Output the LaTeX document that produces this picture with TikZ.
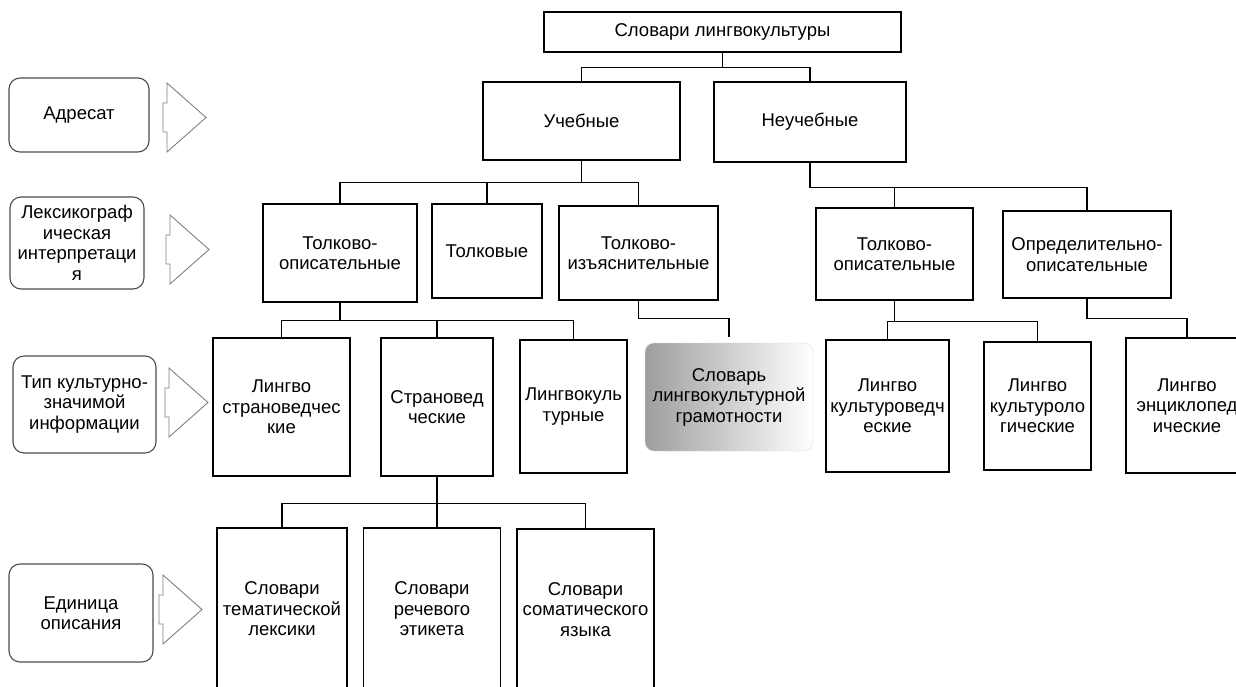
\documentclass[tikz,border=0pt]{standalone}
\usepackage{fontspec}
\setmainfont{Liberation Sans}

\begin{document}
\begin{tikzpicture}[x=1pt,y=-1pt,font=\fontsize{18.5}{20.5}\selectfont,
        box/.style={draw,line width=1.1pt,align=center,inner sep=0pt},
        sidebox/.style={draw=black!70,line width=1.1pt,rounded corners=11pt,align=center,inner sep=0pt},
        graybox/.style={rounded corners=9pt,left color=black!38,right color=white,draw=black!15,align=center,inner sep=0pt},
        conn/.style={line width=1.1pt},
        hint/.pic={\draw[black!50,line width=0.9pt] (0,-34.5) -- (39,0) -- (0,34.5) -- (0,14.5) -- (-4,14.5) -- (-4,-14.5) -- (0,-14.5) -- cycle;}]
        \useasboundingbox (0,0) rectangle (1236,686);
        \clip (0,0) rectangle (1236,686);

        \node[sidebox,minimum width=140pt,minimum height=74pt] (adr) at (79,115) {Адресат};
        \node[sidebox,minimum width=134pt,minimum height=92pt] (lex) at (77,243) {Лексикограф\\ическая\\интерпретаци\\я};
        \node[sidebox,minimum width=143pt,minimum height=97pt] (tip) at (84.5,404.5) {Тип культурно-\\значимой\\информации};
        \node[sidebox,minimum width=144pt,minimum height=98pt] (edin) at (81,613) {Единица\\описания};
        \pic at (167,117.5) {hint};
        \pic at (170,249.5) {hint};
        \pic at (169,402.5) {hint};
        \pic at (163,609.5) {hint};

        \node[box,minimum width=357pt,minimum height=40pt] (root) at (722.5,32) {Словари лингвокультуры};
        \node[box,minimum width=197pt,minimum height=78pt] (ucheb) at (581.5,121) {Учебные};
        \node[box,minimum width=192pt,minimum height=80pt] (neucheb) at (810,122) {Неучебные};

        \node[box,minimum width=154pt,minimum height=98pt] (tol_op) at (340,253) {Толково-\\описательные};
        \node[box,minimum width=110pt,minimum height=94pt] (tolk) at (487,251) {Толковые};
        \node[box,minimum width=159pt,minimum height=94pt] (tol_iz) at (638.5,253) {Толково-\\изъяснительные};
        \node[box,minimum width=157pt,minimum height=92pt] (tol_op_r) at (894.5,254) {Толково-\\описательные};
        \node[box,minimum width=168pt,minimum height=87pt] (opred) at (1087,254.5) {Определительно-\\описательные};

        \node[box,minimum width=137pt,minimum height=138pt] (l_stran) at (281.5,407) {Лингво\\страноведчес\\кие};
        \node[box,minimum width=112pt,minimum height=138pt] (stran) at (437,407) {Страновед\\ческие};
        \node[box,minimum width=107pt,minimum height=133pt] (l_kult) at (573.5,406.5) {Лингвокуль\\турные};
        \node[graybox,minimum width=168pt,minimum height=108pt] (gram) at (729,397) {Словарь\\лингвокультурной\\грамотности};
        \node[box,minimum width=123pt,minimum height=132pt] (l_kv) at (887.5,406) {Лингво\\культуроведч\\еские};
        \node[box,minimum width=107pt,minimum height=128pt] (l_kl) at (1037.5,406) {Лингво\\культуроло\\гические};
        \node[box,minimum width=122pt,minimum height=135pt] (l_enc) at (1187,405.5) {Лингво\\энциклопед\\ические};

        \node[box,minimum width=130pt,minimum height=162pt] (tem) at (282,609) {Словари\\тематической\\лексики};
        \node[box,minimum width=137pt,minimum height=162pt] (rech) at (432,609) {Словари\\речевого\\этикета};
        \node[box,minimum width=137pt,minimum height=161pt] (som) at (585.5,609.5) {Словари\\соматического\\языка};

        \draw[conn] (root.south) -- ++(0,15) -| (ucheb.north)
            (root.south) -- ++(0,15) -| (neucheb.north);
        \draw[conn] (ucheb.south) -- ++(0,22) -| (tol_op.north)
            (ucheb.south) -- ++(0,22) -| (tolk.north)
            (ucheb.south) -- ++(0,22) -| (tol_iz.north);
        \draw[conn] (neucheb.south) -- ++(0,25) -| (tol_op_r.north)
            (neucheb.south) -- ++(0,25) -| (opred.north);
        \draw[conn] (tol_op.south) -- ++(0,18) -| (l_stran.north)
            (tol_op.south) -- ++(0,18) -| (stran.north)
            (tol_op.south) -- ++(0,18) -| (l_kult.north);
        \draw[conn,shorten >=6pt] (tol_iz.south) -- ++(0,18) -| (gram.north);
        \draw[conn] (tol_op_r.south) -- ++(0,21) -| (l_kv.north)
            (tol_op_r.south) -- ++(0,21) -| (l_kl.north);
        \draw[conn] (opred.south) -- ++(0,20) -| (l_enc.north);
        \draw[conn] (stran.south) -- ++(0,27) -| (tem.north)
            (stran.south) -- (stran.south |- rech.north)
            (stran.south) -- ++(0,27) -| (som.north);

\end{tikzpicture}
\end{document}
